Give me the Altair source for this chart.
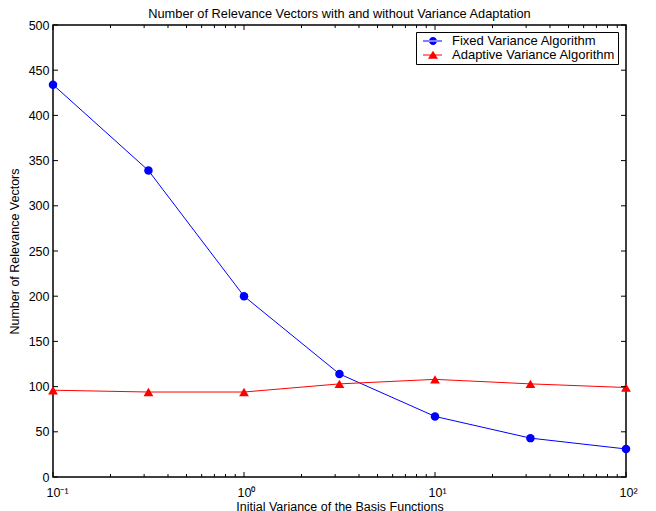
import altair as alt
import pandas as pd

# ---- data ----
X_VALUES = [0.1, 0.316, 1, 3.16, 10, 31.6, 100]
FIXED = [434, 339, 200, 114, 67, 43, 31]
ADAPTIVE = [96, 94, 94, 103, 108, 103, 99]
SERIES = ["Fixed Variance Algorithm", "Adaptive Variance Algorithm"]
COLORS = ["#0000ff", "#ff0000"]
X_TICKS = [0.1, 1, 10, 100]
X_TICK_LABELS = ["10⁻¹", "10⁰", "10¹", "10²"]
X_MINOR = [0.2, 0.3, 0.4, 0.5, 0.6, 0.7, 0.8, 0.9,
           2, 3, 4, 5, 6, 7, 8, 9,
           20, 30, 40, 50, 60, 70, 80, 90]
Y_TICKS = [0, 50, 100, 150, 200, 250, 300, 350, 400, 450, 500]

TITLE = "Number of Relevance Vectors with and without Variance Adaptation"
X_TITLE = "Initial Variance of the Basis Functions"
Y_TITLE = "Number of Relevance Vectors"

W, H = 573, 452
FONT = "Liberation Sans"
FS = 12.5

df = pd.DataFrame({
    "x": X_VALUES + X_VALUES,
    "y": FIXED + ADAPTIVE,
    "series": [SERIES[0]] * len(FIXED) + [SERIES[1]] * len(ADAPTIVE),
})

xscale = alt.Scale(type="log", domain=[X_TICKS[0], X_TICKS[-1]], nice=False)
yscale = alt.Scale(domain=[Y_TICKS[0], Y_TICKS[-1]], nice=False)

label_expr = " : ".join(
    f"abs(datum.value - {t}) < {t * 0.01} ? '{l}'" for t, l in zip(X_TICKS, X_TICK_LABELS)
) + " : ''"

x_axis = alt.Axis(values=X_TICKS, labelExpr=label_expr, ticks=False,
                  domain=False, grid=False, labelPadding=9,
                  labelAlign="left", labelOffset=-7,
                  title=X_TITLE, titlePadding=2)
y_axis = alt.Axis(values=Y_TICKS, ticks=False, domain=False, grid=False,
                  labelPadding=4, title=Y_TITLE, titlePadding=7)


def series_layers(name, color, shape, size):
    sub = alt.Chart(df).transform_filter(alt.datum.series == name)
    line = sub.mark_line(strokeWidth=1, color=color).encode(
        x=alt.X("x:Q", scale=xscale, axis=x_axis),
        y=alt.Y("y:Q", scale=yscale, axis=y_axis),
    )
    pts = sub.mark_point(filled=True, shape=shape, size=size, opacity=1, color=color).encode(
        x=alt.X("x:Q", scale=xscale, axis=x_axis),
        y=alt.Y("y:Q", scale=yscale, axis=y_axis),
    )
    return [line, pts]


# legend symbols: thin filled bar (the line) + marker, in units of 7px (symbol size 196)
LEG_BAR = "M-0.286,-0.07L2.43,-0.07L2.43,0.07L-0.286,0.07Z"
LEG_CIRCLE = LEG_BAR + ("M0.573,0A0.57,0.57 0 1,0 1.713,0"
                        "A0.57,0.57 0 1,0 0.573,0Z")
LEG_TRI = LEG_BAR + "M1.143,-0.62L1.857,0.52L0.429,0.52Z"

# legend-only layer: draws no points (filtered out), the legend comes from the scales
legend_layer = alt.Chart(df).transform_filter("false").mark_point(
    filled=True, opacity=1, size=196
).encode(
    x=alt.X("x:Q", scale=xscale, axis=x_axis), y=alt.Y("y:Q", scale=yscale, axis=y_axis),
    color=alt.Color("series:N", scale=alt.Scale(domain=SERIES, range=COLORS),
                    legend=alt.Legend(
                        orient="none", legendX=363, legendY=7, title=None,
                        padding=2, strokeColor="black", fillColor="white",
                        symbolSize=196, symbolOpacity=1, symbolStrokeWidth=0,
                        labelFont=FONT, labelFontSize=13, labelColor="black",
                        labelOffset=20, rowPadding=0, labelLimit=300,
                        labelExpr="datum.label + '\u2002'")),
    shape=alt.Shape("series:N", scale=alt.Scale(domain=SERIES, range=[LEG_CIRCLE, LEG_TRI])),
)

xmaj = pd.DataFrame({"v": X_TICKS})
xmin = pd.DataFrame({"v": X_MINOR})
ytk = pd.DataFrame({"v": Y_TICKS})


def xticks(data, length):
    bottom = alt.Chart(data).mark_rule(color="black", strokeWidth=1).encode(
        x=alt.X("v:Q", scale=xscale, axis=x_axis), y=alt.value(H), y2=alt.value(H - length))
    top = alt.Chart(data).mark_rule(color="black", strokeWidth=1).encode(
        x=alt.X("v:Q", scale=xscale, axis=x_axis), y=alt.value(0), y2=alt.value(length))
    return [bottom, top]


yl = alt.Chart(ytk).mark_rule(color="black", strokeWidth=1).encode(
    y=alt.Y("v:Q", scale=yscale, axis=y_axis), x=alt.value(0), x2=alt.value(5))
yr = alt.Chart(ytk).mark_rule(color="black", strokeWidth=1).encode(
    y=alt.Y("v:Q", scale=yscale, axis=y_axis), x=alt.value(W), x2=alt.value(W - 5))

chart = alt.layer(
    *series_layers(SERIES[0], COLORS[0], "circle", 72),
    *series_layers(SERIES[1], COLORS[1], "triangle-up", 95),
    legend_layer,
    *xticks(xmaj, 5), *xticks(xmin, 3), yl, yr,
).properties(
    width=W, height=H,
    title=alt.TitleParams(TITLE, font=FONT, fontSize=12.8, fontWeight="normal",
                          color="black", anchor="middle", dy=6),
    autosize=alt.AutoSizeParams(type="none"),
    padding={"left": 45, "top": 17, "right": 22, "bottom": 40},
).configure_view(
    stroke="black", strokeWidth=1.5,
).configure_axis(
    labelFont=FONT, labelFontSize=FS, labelColor="black",
    titleFont=FONT, titleFontSize=FS, titleFontWeight="normal", titleColor="black",
)

chart.save("out.html", embed_options={"renderer": "svg", "actions": False})
